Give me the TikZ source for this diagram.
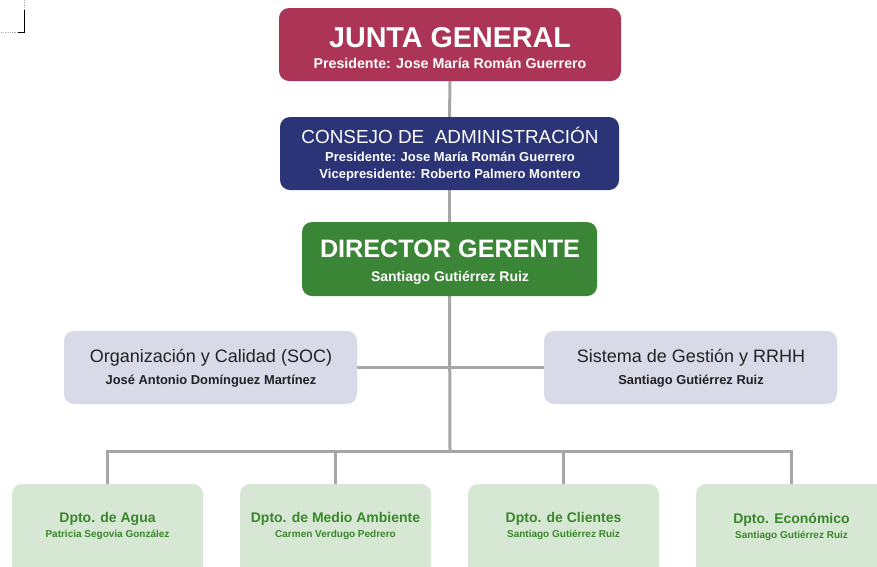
\documentclass[tikz,border=0pt]{standalone}
\usepackage{fontspec}
\setmainfont{Liberation Sans}
\usetikzlibrary{backgrounds}
\definecolor{junta}{HTML}{AB3457}
\definecolor{consejo}{HTML}{2A3476}
\definecolor{director}{HTML}{3B8536}
\definecolor{staff}{HTML}{D9DAE7}
\definecolor{dept}{HTML}{D6E8D3}
\definecolor{depttext}{HTML}{3A862C}
\definecolor{staffttext}{HTML}{222222}
\definecolor{conn}{HTML}{A6A6A6}
\tikzset{
  box/.style={rounded corners=10pt, inner sep=0pt, outer sep=0pt},
  wt/.style={text=white, inner sep=0pt, anchor=base},
  st/.style={text=staffttext, inner sep=0pt, anchor=base},
  dt/.style={text=depttext, inner sep=0pt, anchor=base},
  link/.style={draw=conn, line width=3pt},
}
\begin{document}
\begin{tikzpicture}[x=1pt,y=-1pt]
\useasboundingbox (0,0) rectangle (877,566);
\clip (0,0) rectangle (877,566);
% crop mark
\draw[gray!60, densely dotted, line width=0.8pt] (24,0) -- (24,10);
\draw[black, line width=0.9pt] (24,10) -- (24,32.5) -- (18,32.5);
\draw[gray!60, densely dotted, line width=0.8pt] (18,32.5) -- (0,32.5);
% boxes
\node[box, fill=junta, minimum width=342pt, minimum height=73pt] (junta) at (450,44.5) {};
\node[box, fill=consejo, minimum width=339pt, minimum height=73pt] (consejo) at (449.5,153.5) {};
\node[box, fill=director, minimum width=295pt, minimum height=74pt] (director) at (449.5,259) {};
\node[box, fill=staff, minimum width=293pt, minimum height=73pt] (soc) at (210.5,367.5) {};
\node[box, fill=staff, minimum width=293pt, minimum height=73pt] (rrhh) at (690.5,367.5) {};
\node[box, fill=dept, minimum width=191pt, minimum height=100pt] (agua) at (107.5,534) {};
\node[box, fill=dept, minimum width=191pt, minimum height=100pt] (medio) at (335.5,534) {};
\node[box, fill=dept, minimum width=191pt, minimum height=100pt] (clientes) at (563.5,534) {};
\node[box, fill=dept, minimum width=191pt, minimum height=100pt] (economico) at (791.5,534) {};
\coordinate (bar) at (450,451);
% connectors
\begin{scope}[on background layer]
\draw[link] (junta.south) -- (consejo.north);
\draw[link] (consejo.south) -- (director.north);
\draw[link] (director.south) -- (bar);
\draw[link] (soc.east) -- (rrhh.west);
\draw[link] (agua.north) -- (agua.north |- bar) -- (economico.north |- bar) -- (economico.north);
\draw[link] (medio.north) -- (medio.north |- bar);
\draw[link] (clientes.north) -- (clientes.north |- bar);
\end{scope}
% texts
\node[wt, font=\bfseries\fontsize{28.7}{30}\selectfont] (t1) at (450,47) {JUNTA GENERAL};
\node[wt, font=\bfseries\fontsize{14.2}{16}\selectfont] (t1b) at (450,68) {Presidente: Jose María Román Guerrero};
\node[wt, font=\fontsize{18.9}{20}\selectfont] (t2) at (450,143) {CONSEJO DE\ \ ADMINISTRACIÓN};
\node[wt, font=\bfseries\fontsize{13}{15}\selectfont] (t2b) at (450,161) {Presidente: Jose María Román Guerrero};
\node[wt, font=\bfseries\fontsize{13}{15}\selectfont] (t2c) at (450,178) {Vicepresidente: Roberto Palmero Montero};
\node[wt, font=\bfseries\fontsize{25.2}{27}\selectfont] (t3) at (450,257) {DIRECTOR GERENTE};
\node[wt, font=\bfseries\fontsize{14}{16}\selectfont] (t3b) at (450,281) {Santiago Gutiérrez Ruiz};
\node[st, font=\fontsize{18}{20}\selectfont] (t4) at (211,362) {Organización y Calidad (SOC)};
\node[st, font=\bfseries\fontsize{12.9}{14}\selectfont] (t4b) at (211,384) {José Antonio Domínguez Martínez};
\node[st, font=\fontsize{18}{20}\selectfont] (t5) at (691,362) {Sistema de Gestión y RRHH};
\node[st, font=\bfseries\fontsize{12.9}{14}\selectfont] (t5b) at (691,384) {Santiago Gutiérrez Ruiz};
\node[dt, font=\bfseries\fontsize{14}{16}\selectfont] (t6) at (107.5,522) {Dpto. de Agua};
\node[dt, font=\bfseries\fontsize{10}{11}\selectfont] (t6b) at (107.5,537) {Patricia Segovia González};
\node[dt, font=\bfseries\fontsize{14}{16}\selectfont] (t7) at (335.5,522) {Dpto. de Medio Ambiente};
\node[dt, font=\bfseries\fontsize{10}{11}\selectfont] (t7b) at (335.5,537) {Carmen Verdugo Pedrero};
\node[dt, font=\bfseries\fontsize{14}{16}\selectfont] (t8) at (563.5,522) {Dpto. de Clientes};
\node[dt, font=\bfseries\fontsize{10}{11}\selectfont] (t8b) at (563.5,537) {Santiago Gutiérrez Ruiz};
\node[dt, font=\bfseries\fontsize{14}{16}\selectfont] (t9) at (791.5,523) {Dpto. Económico};
\node[dt, font=\bfseries\fontsize{10}{11}\selectfont] (t9b) at (791.5,538) {Santiago Gutiérrez Ruiz};
\end{tikzpicture}
\end{document}
